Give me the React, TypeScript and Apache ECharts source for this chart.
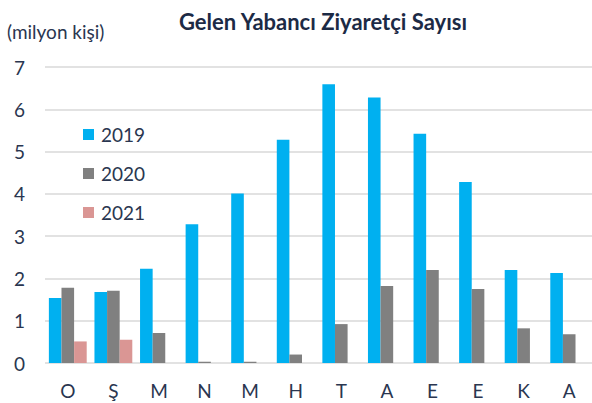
import React, { useEffect, useRef } from "react";
import * as echarts from "echarts";

const categories = ["O", "Ş", "M", "N", "M", "H", "T", "A", "E", "E", "K", "A"];
const values2019 = [1.54, 1.68, 2.23, 3.28, 4.01, 5.28, 6.59, 6.28, 5.42, 4.28, 2.2, 2.13];
const values2020 = [1.78, 1.71, 0.71, 0.03, 0.03, 0.2, 0.92, 1.82, 2.2, 1.75, 0.82, 0.68];
const values2021 = [0.51, 0.55, null, null, null, null, null, null, null, null, null, null];
const seriesNames = ["2019", "2020", "2021"];

const TEXT = "#2A3650";
const FONT = "Lato, 'Open Sans', sans-serif";

export default function App() {
  const ref = useRef<HTMLDivElement>(null);
  useEffect(() => {
    if (!ref.current) return;
    const chart = echarts.init(ref.current, null, { renderer: "svg" });
    chart.setOption({
      animation: false,
      backgroundColor: "#ffffff",
      textStyle: { fontFamily: FONT },
      title: {
        text: "Gelen Yabancı Ziyaretçi Sayısı",
        left: 318,
        textAlign: "center",
        top: 5,
        textStyle: { fontFamily: FONT, fontSize: 22, fontWeight: "bold", color: "#1C2A45" },
      },
      graphic: [
        {
          type: "text",
          left: 7,
          top: 22,
          style: { text: "(milyon kişi)", font: `19px ${FONT}`, fill: TEXT },
        },
      ],
      legend: {
        orient: "vertical",
        left: 78,
        top: 120,
        itemWidth: 11,
        itemHeight: 11,
        itemGap: 20,
        icon: "rect",
        data: seriesNames,
        textStyle: { fontFamily: FONT, fontSize: 19, color: TEXT, padding: [0, 0, 0, 2] },
      },
      grid: { left: 45, right: 0, top: 67, bottom: 40, containLabel: false },
      xAxis: {
        type: "category",
        data: categories,
        axisLine: { show: false },
        axisTick: { show: false },
        axisLabel: { fontFamily: FONT, fontSize: 19, color: TEXT, margin: 18 },
      },
      yAxis: {
        type: "value",
        min: 0,
        max: 7,
        interval: 1,
        axisLine: { show: false },
        axisTick: { show: false },
        axisLabel: { fontFamily: FONT, fontSize: 19, color: TEXT, margin: 20 },
        splitLine: { lineStyle: { color: "#D9D9D9", width: 1.5 } },
      },
      series: [
        { name: "2019", type: "bar", data: values2019, itemStyle: { color: "#00B0F0" }, barGap: "0%", barCategoryGap: "17%" },
        { name: "2020", type: "bar", data: values2020, itemStyle: { color: "#808080" }, barGap: "0%", barCategoryGap: "17%" },
        { name: "2021", type: "bar", data: values2021, itemStyle: { color: "#DA9694" }, barGap: "0%", barCategoryGap: "17%" },
      ],
    });
    return () => chart.dispose();
  }, []);
  return (
    <div
      ref={ref}
      style={{ position: "absolute", left: 0, top: 0, width: 592, height: 403 }}
    />
  );
}
